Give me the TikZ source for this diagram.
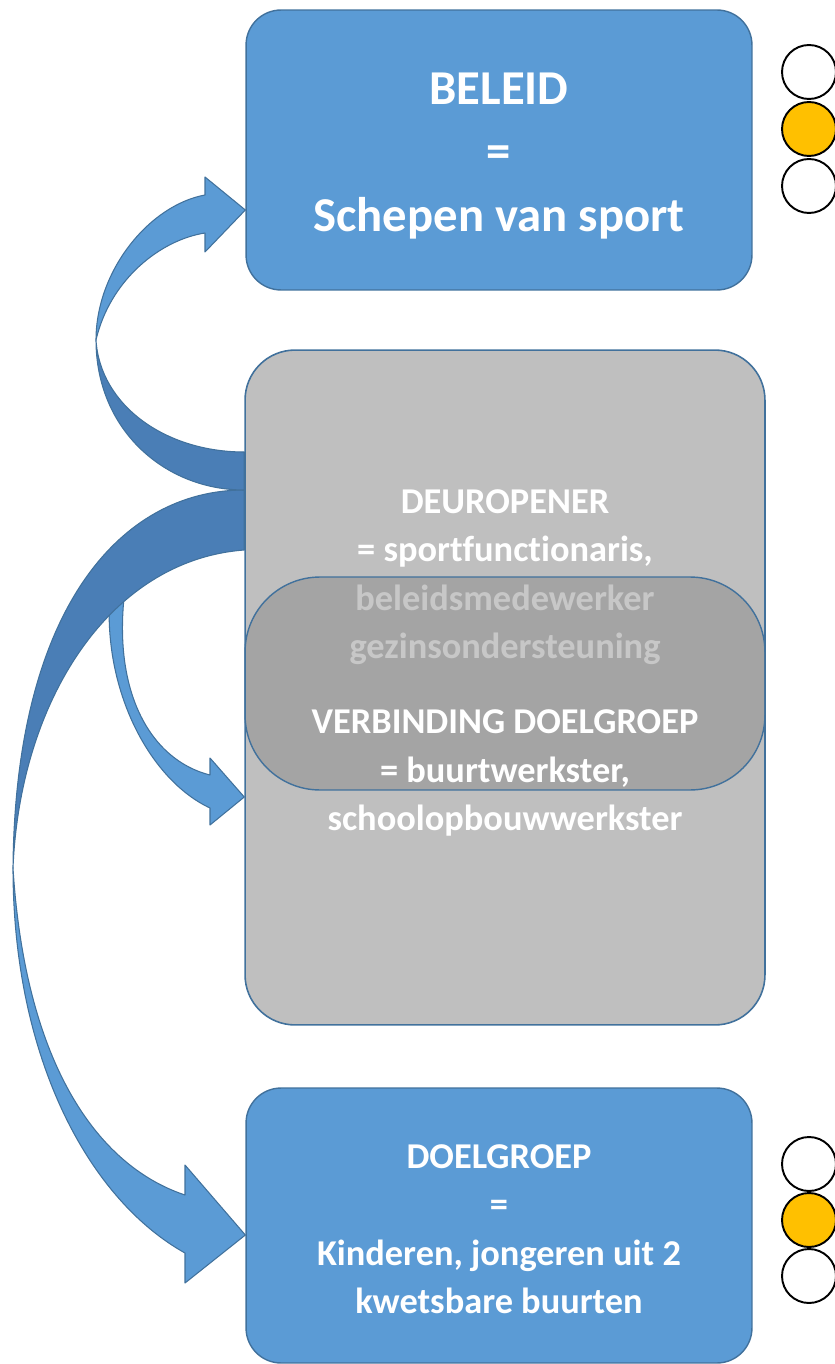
\documentclass[tikz,border=0pt]{standalone}
\usepackage{fontspec}
\setmainfont{Carlito}[Ligatures=NoCommon]
\usetikzlibrary{calc}

\definecolor{boxblue}{HTML}{5B9BD5}
\definecolor{bandblue}{HTML}{4A7EB6}
\definecolor{edgeblue}{HTML}{41719C}
\definecolor{panelgray}{HTML}{BFBFBF}
\definecolor{overlaygray}{HTML}{858585}
\definecolor{lampamber}{HTML}{FFC000}

\begin{document}
\begin{tikzpicture}[
        x=0.02cm, y=-0.02cm,
        rolebox/.style={
            rectangle,
            draw=edgeblue,
            line width=0.8pt,
            fill=boxblue,
            rounded corners=0.7cm,
            minimum width=10.12cm,
            inner sep=0pt
        },
        panel/.style={
            rectangle,
            draw=edgeblue,
            line width=0.9pt,
            fill=panelgray,
            rounded corners=1cm,
            minimum width=10.4cm,
            minimum height=13.5cm,
            inner sep=0pt
        },
        overlaybox/.style={
            rectangle,
            draw=edgeblue,
            line width=0.8pt,
            fill=overlaygray,
            fill opacity=0.45,
            rounded corners=1.5cm,
            minimum width=10.4cm,
            minimum height=4.26cm,
            inner sep=0pt
        },
        bigtext/.style={text=white, align=center, inner sep=0pt,
            font=\fontsize{27.7}{36}\selectfont\bfseries},
        boxtext/.style={text=white, align=center, inner sep=0pt,
            font=\fontsize{20.7}{27.6}\selectfont\bfseries},
        lamp/.style={circle, draw=black, line width=1.1pt, fill=white,
            minimum size=1.08cm, inner sep=0pt},
        lampon/.style={lamp, fill=lampamber},
        bandlight/.style={fill=boxblue, draw=edgeblue, line width=0.6pt, line join=round},
        banddark/.style={fill=bandblue, draw=edgeblue, line width=0.6pt, line join=round}
    ]
        \useasboundingbox (0,0) rectangle (834,1364);

        % Middle panel with overlapping band
        \node[panel] (panel) at (505,687.5) {};
        \node[boxtext] (deurtext) at (505,577) {DEUROPENER\\= sportfunctionaris,\\beleidsmedewerker\\gezinsondersteuning};
        \node[overlaybox] (verb) at (505,683.5) {};
        \node[boxtext] (verbtext) at (505,773) {VERBINDING DOELGROEP\\= buurtwerkster,\\schoolopbouwwerkster};

        % Top and bottom boxes
        \node[rolebox, minimum height=5.6cm] (beleid) at (499,150) {};
        \node[bigtext] (beleidtext) at (499,156) {BELEID\\=\\Schepen van sport};
        \node[rolebox, minimum height=5.5cm] (doel) at (499,1225.5) {};
        \node[boxtext] (doeltext) at (499,1229) {DOELGROEP\\=\\Kinderen, jongeren uit 2\\kwetsbare buurten};

        % Traffic lights
        \node[lamp] (topa) at (809,72) {};
        \node[lampon] (topb) at (809,129) {};
        \node[lamp] (topc) at (809,186) {};
        \node[lamp] (bota) at (809,1164) {};
        \node[lampon] (botb) at (809,1220) {};
        \node[lamp] (botc) at (809,1276) {};

        % Small arrow back into the panel
        \draw[bandlight] (110,592) .. controls (102,690) and (150,780) .. (210,808)
            -- (210,825) -- (panel.west |- 0,797) -- (210,758) -- (210,775)
            .. controls (150,760) and (110,690) .. (126,582) -- cycle;

        % Big arrow down to the target group
        \draw[banddark] (panel.west |- 0,490) .. controls (120,490) and (15,610) .. (13,868)
            .. controls (20,700) and (110,560) .. (panel.west |- 0,550) -- cycle;
        \draw[bandlight] (13,868) .. controls (13,1060) and (90,1200) .. (185,1253)
            -- (185,1283) -- (doel.west |- 0,1235) -- (185,1165) -- (185,1195)
            .. controls (95,1165) and (25,1060) .. (13,868) -- cycle;

        % Arrow up to the policy box
        \draw[banddark] (panel.west |- 0,490) .. controls (165,490) and (96,430) .. (96,340)
            .. controls (100,405) and (165,452) .. (panel.west |- 0,452) -- cycle;
        \draw[bandlight] (96,340) .. controls (96,270) and (150,205) .. (205,195)
            -- (205,177) -- (beleid.west |- 0,210) -- (205,252) -- (205,233)
            .. controls (160,240) and (110,280) .. (96,340) -- cycle;

    \end{tikzpicture}
\end{document}
